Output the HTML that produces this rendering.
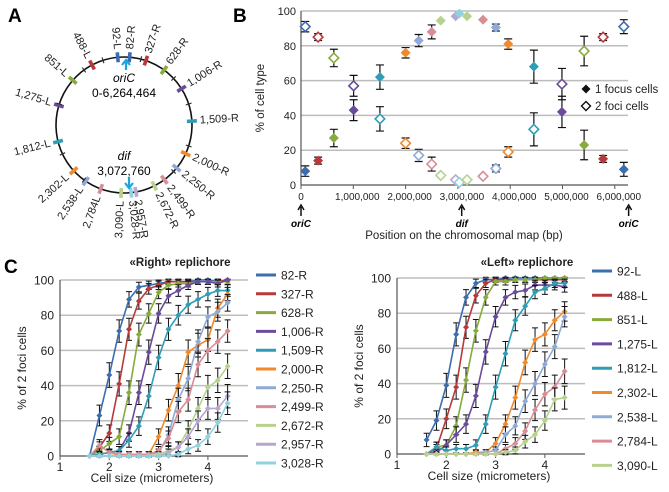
<!DOCTYPE html>
<html><head><meta charset="utf-8">
<style>
html,body{margin:0;padding:0;background:#fff;}
svg{display:block;font-family:"Liberation Sans",Arial,sans-serif;}
</style></head>
<body>
<svg id="fig" width="669" height="492" viewBox="0 0 669 492"></svg>
<script>
// ---------- Data ----------
const colors = ['#3c6db0','#b73a3b','#87ab3c','#6b4b9b','#2f9db6','#f08a2d','#8faad6','#d98d96','#b7d28d','#b6a7d0','#90d2e2'];
// Panel A / B loci
const lociNames = ['82-R','327-R','628-R','1,006-R','1,509-R','2,000-R','2,250-R','2,499-R','2,672-R','2,957-R','3,028-R','3,090-L','2,784L','2,538-L','2,302-L','1,812-L','1,275-L','851-L','488-L','92-L'];
const lociPos = [82000,327000,628000,1006000,1509000,2000000,2250000,2499000,2672000,2957000,3028000,3174464,3480464,3726464,3962464,4452464,4989464,5413464,5776464,6172464];
const lociColor = [0,1,2,3,4,5,6,7,8,9,10,8,7,6,5,4,3,2,1,0];
const oneFocus = [8,14,27,43,62,76,83,88,94.5,97,98.5,97,95,90.5,81,68,42,23,15,9];
const twoFoci = [91,85,73,57,38,24,17,12,5.5,3,1.5,3,5,9.5,19,32,58,77,85,91];
const errB = [3,2,5,6,7,3,3.5,4,0,0,0,0,0,2,3,9.5,9,8.5,2,4];
const genomeSize = 6264464;
const bTicks = ['0','1,000,000','2,000,000','3,000,000','4,000,000','5,000,000','6,000,000'];
const pctTicks = [0,20,40,60,80,100];
// Panel C
const cellSizes = [1.6,1.8,2.0,2.2,2.4,2.6,2.8,3.0,3.2,3.4,3.6,3.8,4.0,4.2,4.4];
const rightNames = ['82-R','327-R','628-R','1,006-R','1,509-R','2,000-R','2,250-R','2,499-R','2,672-R','2,957-R','3,028-R'];
const r82 = [0,23,46,71,89,96,97,98,99,99,99,100,100,99,100];
const r327 = [0,5,13,41,72,88,95,97,99,99,99,99,99,99,100];
const r628 = [0,3,7,11,36,69,81,93,97,98,98,99,99,99,99];
const r1006 = [0,1,2,3,13,36,59,81,91,94,97,99,99,98,100];
const r1509 = [0,1,2,3,9,17,34,56,72,80,86,89,92,94,94];
const r2000 = [0,0,0,1,1,1,1,11,26,40,59,63,66,84,92];
const r2250 = [0,0,0,0,0,0,1,2,12,32,44,65,79,82,87];
const r2499 = [0,6,2,1,1,1,1,3,10,25,32,52,60,65,71];
const r2672 = [0,0,0,0,0,0,0,1,3,5,15,27,39,43,51];
const r2957 = [0,0,0,0,0,0,0,0,2,5,11,20,27,27,34];
const r3028 = [0,0,0,0,0,0,0,0,0,1,4,6,11,19,30];
const leftNames = ['92-L','488-L','851-L','1,275-L','1,812-L','2,302-L','2,538-L','2,784-L','3,090-L'];
const l92 = [8,19,39,68,89,97,99,99,100,100,100,100,100,100,100];
const l488 = [0,3,20,38,72,90,97,99,99,99,99,99,99,99,99];
const l851 = [0,4,5,16,42,70,89,98,98,99,99,99,100,100,100];
const l1275 = [0,1,5,11,17,33,58,78,89,92,93,96,96,96,95];
const l1812 = [0,4,2,3,3,5,17,38,57,76,84,92,94,97,97];
const l2302 = [0,0,0,0,0,1,1,6,17,32,52,65,68,76,81];
const l2538 = [0,0,0,0,0,0,1,2,11,16,30,40,51,61,78];
const l2784 = [0,0,0,0,0,0,0,0,3,6,13,25,34,38,47];
const l3090 = [0,0,0,0,0,0,0,0,1,2,7,11,19,31,32];
const cXTicks = [1,2,3,4];

// ---------- helpers ----------
const NS='http://www.w3.org/2000/svg';
const svg=document.getElementById('fig');
function mk(tag,attrs,parent,text){const e=document.createElementNS(NS,tag);for(const k in attrs)e.setAttribute(k,attrs[k]);if(text!==undefined)e.textContent=text;(parent||svg).appendChild(e);return e;}
function diamond(g,x,y,s,fill,stroke,sw){return mk('polygon',{points:`${x},${y-s} ${x+s},${y} ${x},${y+s} ${x-s},${y}`,fill:fill,stroke:stroke,'stroke-width':sw},g);}

// ---------- Panel A ----------
const gA=mk('g',{});


mk('text',{x:8,y:22,'font-size':19,'font-weight':'bold'},gA,'A');
const cx=124,cy=125,R=68;
mk('circle',{cx:cx,cy:cy,r:R,fill:'none',stroke:'#111','stroke-width':1.6},gA);
function ang(p){return p/genomeSize*2*Math.PI;}
for(let i=0;i<lociPos.length;i++){
  const a=ang(lociPos[i]);const deg=a*180/Math.PI;
  const px=cx+R*Math.sin(a),py=cy-R*Math.cos(a);
  const m=mk('rect',{x:px-1.8,y:py-5,width:3.6,height:10,fill:colors[lociColor[i]],transform:`rotate(${deg} ${px} ${py})`},gA);
  
  
  const lr=R+8,lx=cx+lr*Math.sin(a),ly=cy-lr*Math.cos(a);
  const right=lociPos[i]<genomeSize/2;
  const rot=right?deg-90:deg+90;
  const t=mk('text',{x:lx,y:ly,'font-size':11,'text-anchor':right?'start':'end','dominant-baseline':'middle',fill:'#222',transform:`rotate(${rot} ${lx} ${ly})`},gA,lociNames[i]);
  
  
}
// small black ticks
[0.04,0.13,0.2,0.3,0.37,0.6,0.68,0.8,0.9,0.95].forEach(f=>{const a=f*2*Math.PI;const px=cx+R*Math.sin(a),py=cy-R*Math.cos(a);mk('rect',{x:px-0.6,y:py-3,width:1.2,height:6,fill:'#333',transform:`rotate(${a*180/Math.PI} ${px} ${py})`},gA);});
mk('path',{d:`M126 70 L126 62 M122 65 L126 60 L130 65`,stroke:'#1aa7e0','stroke-width':2.2,fill:'none'},gA);
mk('text',{x:124,y:82,'font-size':12,'font-style':'italic','text-anchor':'middle'},gA,'oriC');
mk('text',{x:124,y:97,'font-size':12,'text-anchor':'middle'},gA,'0-6,264,464');
mk('text',{x:124,y:160,'font-size':12,'font-style':'italic','text-anchor':'middle'},gA,'dif');
mk('text',{x:124,y:175,'font-size':12,'text-anchor':'middle'},gA,'3,072,760');
mk('path',{d:`M129 177 L129 187 M125 183 L129 188 L133 183`,stroke:'#1aa7e0','stroke-width':2.2,fill:'none'},gA);

// ---------- Panel B ----------
const gB=mk('g',{});


mk('text',{x:233,y:22,'font-size':19,'font-weight':'bold'},gB,'B');
const bx0=301,bk=52.3/1e6,by0=185,by100=11,bxEnd=628;
const bX=v=>bx0+v*bk, bY=v=>by0+(by100-by0)*v/100;
pctTicks.forEach(t=>{
  if(t>0){const gl=mk('line',{x1:bx0,x2:bxEnd,y1:bY(t),y2:bY(t),stroke:'#bdbdbd','stroke-width':1.5},gB);}
  mk('text',{x:bx0-5,y:bY(t)+4,'font-size':11,'text-anchor':'end',fill:'#222'},gB,String(t));
});
mk('line',{x1:bx0,x2:bxEnd,y1:by0,y2:by0,stroke:'#555','stroke-width':1.2},gB);
mk('line',{x1:bx0,x2:bx0,y1:by100,y2:by0,stroke:'#555','stroke-width':1.2},gB);
bTicks.forEach((l,i)=>{const x=bX(i*1e6);mk('line',{x1:x,x2:x,y1:by0,y2:by0+4,stroke:'#555'},gB);mk('text',{x:i==0?x:x+4,y:200,'font-size':10,'text-anchor':'middle',fill:'#222'},gB,l);});
[[0,'oriC'],[3072760,'dif'],[genomeSize,'oriC']].forEach(([p,l])=>{const x=bX(p);mk('path',{d:`M${x} 216 L${x} 207 M${x-3} 210 L${x} 205 L${x+3} 210`,stroke:'#111','stroke-width':1.5,fill:'none'},gB);mk('text',{x:x,y:227,'font-size':10,'font-weight':'bold','font-style':'italic','text-anchor':'middle'},gB,l);});
mk('text',{x:464,y:239,'font-size':11.5,'text-anchor':'middle',fill:'#222'},gB,'Position on the chromosomal map (bp)');
mk('text',{x:0,y:0,'font-size':11.5,'text-anchor':'middle',fill:'#222',transform:`translate(264 98) rotate(-90)`},gB,'% of cell type');
for(let i=0;i<lociPos.length;i++){
  const x=bX(lociPos[i]),c=colors[lociColor[i]];
  [[oneFocus[i],true],[twoFoci[i],false]].forEach(([v,f])=>{
    const y=bY(v),e=errB[i]*(by0-by100)/100;
    if(e>0){mk('path',{d:`M${x} ${y-e} L${x} ${y+e} M${x-4} ${y-e} L${x+4} ${y-e} M${x-4} ${y+e} L${x+4} ${y+e}`,stroke:'#111','stroke-width':1.2},gB);}
    const d=diamond(gB,x,y,f?5:4.8,f?c:'#fff',c,f?0:1.6);
    
    
  });
}
const lg=mk('g',{},gB);


diamond(lg,586,89,4.5,'#111','#111',0);
mk('text',{x:595,y:93,'font-size':11.5,fill:'#222'},lg,'1 focus cells');
diamond(lg,586,106,4.5,'#fff','#111',1.4);
mk('text',{x:595,y:110,'font-size':11.5,fill:'#222'},lg,'2 foci cells');

// ---------- Panel C ----------
mk('text',{x:4,y:273,'font-size':19,'font-weight':'bold'},svg,'C');
function panelC(opts){
  const g=mk('g',{});
  
  
  const X=v=>opts.x1+(v-1)*opts.k, Y=v=>opts.y0+(opts.y100-opts.y0)*v/100;
  pctTicks.forEach(t=>{
    if(t>0){const gl=mk('line',{x1:opts.x1,x2:opts.xEnd,y1:Y(t),y2:Y(t),stroke:'#bdbdbd','stroke-width':1.5},g);}
    mk('text',{x:opts.x1-6,y:Y(t)+4.5,'font-size':12,'text-anchor':'end',fill:'#222'},g,String(t));
  });
  mk('line',{x1:opts.x1,x2:opts.xEnd,y1:opts.y0,y2:opts.y0,stroke:'#555','stroke-width':1.2},g);
  mk('line',{x1:opts.x1,x2:opts.x1,y1:opts.y100,y2:opts.y0,stroke:'#555','stroke-width':1.2},g);
  cXTicks.forEach(t=>{mk('line',{x1:X(t),x2:X(t),y1:opts.y0,y2:opts.y0+4,stroke:'#555'},g);mk('text',{x:X(t),y:opts.y0+15,'font-size':12,'text-anchor':'middle',fill:'#222'},g,String(t));});
  mk('text',{x:(opts.x1+opts.xEnd)/2-2,y:opts.y0+26,'font-size':12,'text-anchor':'middle',fill:'#222'},g,'Cell size (micrometers)');
  mk('text',{x:0,y:0,'font-size':12,'text-anchor':'middle',fill:'#222',transform:`translate(${opts.x1-34} ${(opts.y0+opts.y100)/2}) rotate(-90)`},g,'% of 2 foci cells');
  mk('text',{x:opts.tx,y:opts.ty,'font-size':11.5,'font-weight':'bold','text-anchor':'middle',fill:'#222'},g,opts.title);
  opts.series.forEach((s,si)=>{
    const c=colors[si];
    const pts=s.map((v,i)=>`${X(cellSizes[i])},${Y(v)}`).join(' ');
    const sg=mk('g',{},g);
    
    
    s.forEach((v,i)=>{const p=v/100,e=14*Math.sqrt(p*(1-p))*(opts.y0-opts.y100)/100;if(e>1.5){const x=X(cellSizes[i]),y=Y(v);mk('path',{d:`M${x} ${y-e} L${x} ${y+e} M${x-3} ${y-e} L${x+3} ${y-e} M${x-3} ${y+e} L${x+3} ${y+e}`,stroke:'#111','stroke-width':1},sg);}});
    mk('polyline',{points:pts,fill:'none',stroke:c,'stroke-width':1.6},sg);
    s.forEach((v,i)=>diamond(sg,X(cellSizes[i]),Y(v),3,c,c,0));
    const ly=opts.ly0+si*opts.ldy;
    const le=mk('g',{},g);
    
    
    mk('line',{x1:opts.lx,x2:opts.lx+20,y1:ly,y2:ly,stroke:c,'stroke-width':3},le);
    mk('text',{x:opts.lx+25,y:ly+4.5,'font-size':12,fill:'#222'},le,opts.names[si]);
  });
}
panelC({name:'panel-c-right-replichore',x1:60,k:49.3,xEnd:248,y0:456,y100:280,title:'«Right» replichore',tx:180,ty:266,
  series:[r82,r327,r628,r1006,r1509,r2000,r2250,r2499,r2672,r2957,r3028],names:rightNames,lx:256,ly0:275,ldy:18.8});
panelC({name:'panel-c-left-replichore',x1:397,k:49.3,xEnd:585,y0:454,y100:278,title:'«Left» replichore',tx:527,ty:266,
  series:[l92,l488,l851,l1275,l1812,l2302,l2538,l2784,l3090],names:leftNames,lx:592,ly0:271,ldy:24.3});
</script>
</body></html>
